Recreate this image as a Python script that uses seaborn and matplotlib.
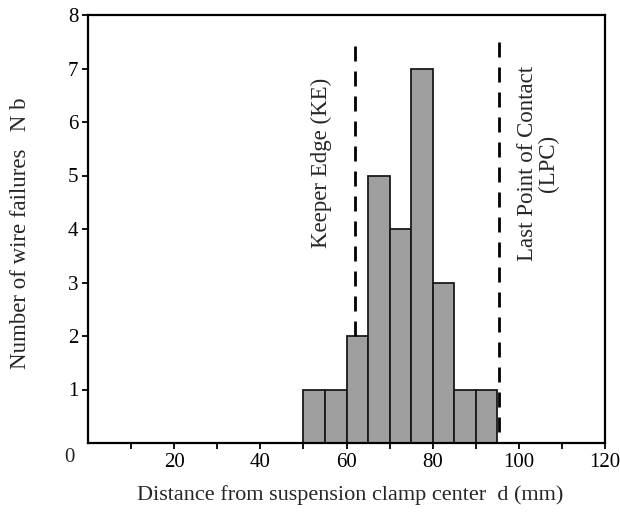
import numpy as np
import matplotlib
matplotlib.use('Agg')
import matplotlib.pyplot as plt
import seaborn as sns

# failures per 5 mm bin (left edge of bin in mm)
bin_left = [50, 55, 60, 65, 70, 75, 80, 85, 90]
counts = [1, 1, 2, 5, 4, 7, 3, 1, 1]
bin_width = 5

keeper_edge = 62
last_contact = 95.5

xticks = [10, 20, 30, 40, 50, 60, 70, 80, 90, 100, 110, 120]
xtick_labels = ['', '20', '', '40', '', '60', '', '80', '', '100', '', '120']
yticks = [1, 2, 3, 4, 5, 6, 7, 8]

sns.set_theme(style='white')
plt.rcParams['font.family'] = ['Liberation Serif', 'DejaVu Serif']

fig = plt.figure(figsize=(6.2, 5.18), dpi=100)
ax = fig.add_axes([88 / 620, 1 - 443 / 518, (605 - 88) / 620, (443 - 15) / 518])

centers = np.array(bin_left) + bin_width / 2
edges = list(bin_left) + [bin_left[-1] + bin_width]
sns.histplot(x=centers, weights=counts, bins=edges, ax=ax,
             color='#9f9f9f', edgecolor='#1a1a1a', linewidth=1.3, alpha=1)

# reference lines
ax.plot([keeper_edge, keeper_edge], [2, 7.6], color='black', lw=2, ls=(0, (5.4, 3.6)))
ax.plot([last_contact, last_contact], [0.2, 7.5], color='black', lw=2, ls=(0, (5.4, 3.6)))

ax.text(54.2, 5.23, 'Keeper Edge (KE)', rotation=90, ha='center', va='center', fontsize=16.5)
ax.text(104.5, 5.23, 'Last Point of Contact\n(LPC)', rotation=90, ha='center', va='center',
        fontsize=16.5, multialignment='center', linespacing=1.0)

ax.set_xlim(0, 120)
ax.set_ylim(0, 8)
ax.set_xticks(xticks)
ax.set_xticklabels(xtick_labels)
ax.set_yticks(yticks)
ax.set_yticklabels([str(v) for v in yticks])
ax.tick_params(bottom=True, left=True, direction='out', length=4, width=1.3,
               labelsize=15, colors='black', pad=3)
ax.text(-0.025, -0.033, '0', transform=ax.transAxes, ha='right', va='center', fontsize=15)

for s in ax.spines.values():
    s.set_visible(True)
    s.set_color('black')
    s.set_linewidth(1.6)

ax.set_xlabel('Distance from suspension clamp center  d (mm)', fontsize=16)
ax.set_ylabel('Number of wire failures   N b', fontsize=16.5)
ax.xaxis.set_label_coords(0.507, -0.1215)
ax.xaxis.label.set_va('center')
ax.yaxis.set_label_coords(-0.1315, 0.49)
ax.yaxis.label.set_va('center')
ax.grid(False)

fig.savefig('out.png', dpi=100)
